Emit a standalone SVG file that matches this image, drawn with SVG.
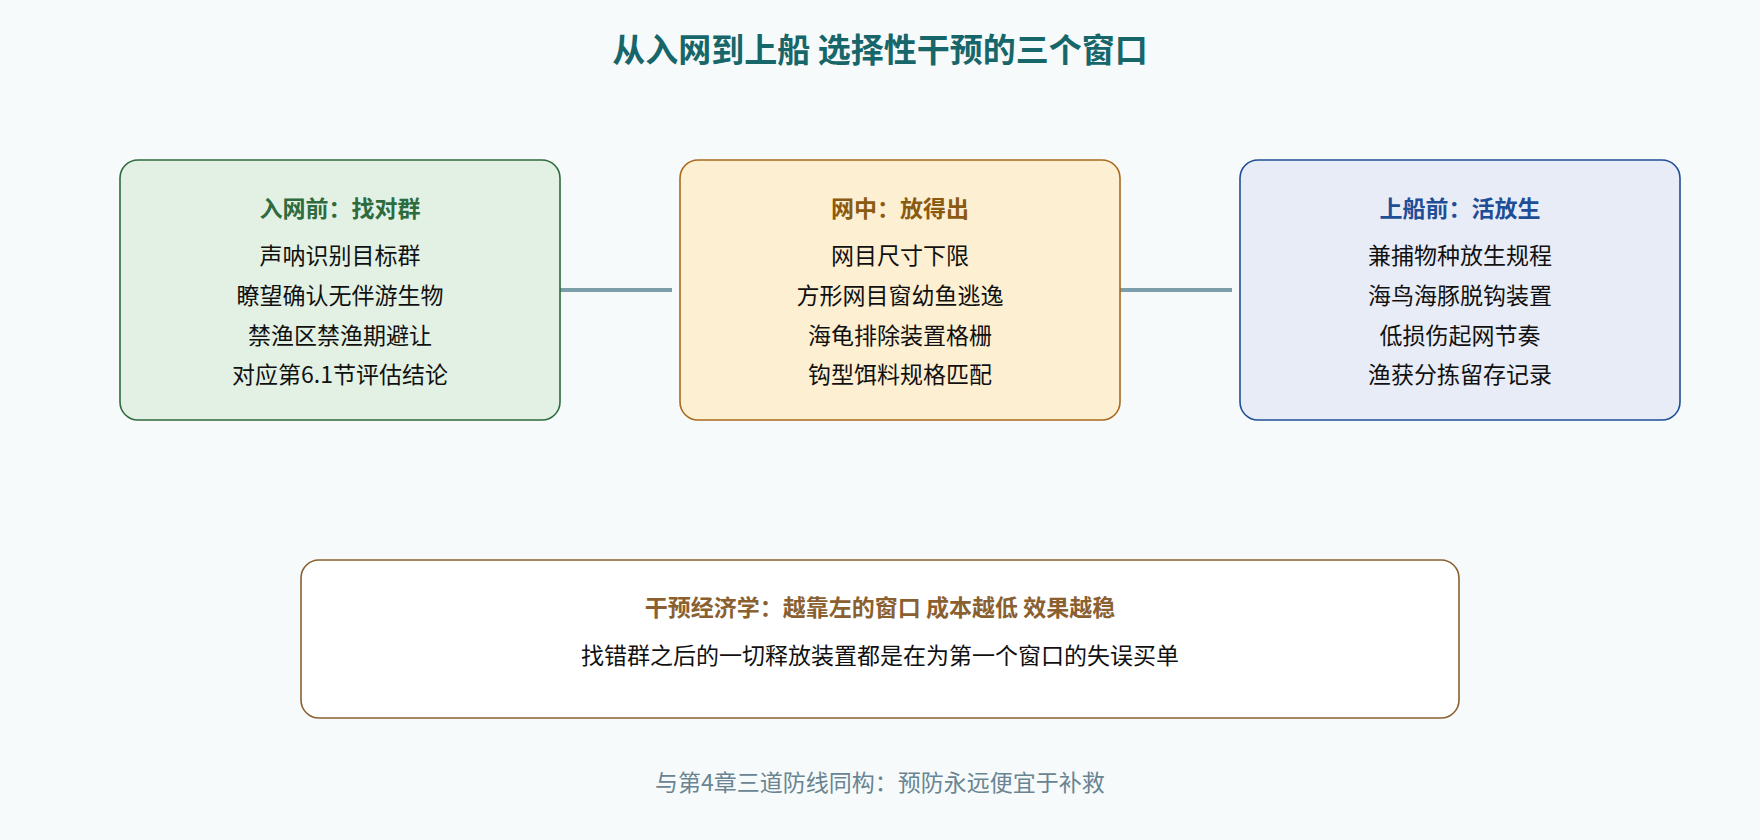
<svg xmlns="http://www.w3.org/2000/svg" width="1760" height="840" viewBox="0 0 1760 840">
<style>
text{font-family:"Noto Sans CJK SC","Noto Sans",sans-serif;text-anchor:middle}
.h{font-size:23px;font-weight:bold}
.t{font-size:23px;fill:#111}
.c{stroke:#7b9ea8;stroke-width:4;fill:none}
</style>
<rect width="1760" height="840" fill="#f6fafb"/>
<text x="880" y="62" font-size="33" font-weight="bold" fill="#17666a">从入网到上船 选择性干预的三个窗口</text>
<g id="connectors">
<line class="c" x1="560" y1="290" x2="672" y2="290"/>
<line class="c" x1="1120" y1="290" x2="1232" y2="290"/>
</g>
<g id="before">
<rect x="120" y="160" width="440" height="260" rx="18" fill="#e3f1e5" stroke="#2e6b3e" stroke-width="1.6"/>
<text class="h" x="340" y="217" fill="#2e6b3e">入网前：找对群</text>
<text class="t" x="340" y="264">声呐识别目标群</text>
<text class="t" x="340" y="304">瞭望确认无伴游生物</text>
<text class="t" x="340" y="344">禁渔区禁渔期避让</text>
<text class="t" x="340" y="383">对应第6.1节评估结论</text>
</g>
<g id="during">
<rect x="680" y="160" width="440" height="260" rx="18" fill="#fdefd1" stroke="#a86a1e" stroke-width="1.6"/>
<text class="h" x="900" y="217" fill="#8a5a12">网中：放得出</text>
<text class="t" x="900" y="264">网目尺寸下限</text>
<text class="t" x="900" y="304">方形网目窗幼鱼逃逸</text>
<text class="t" x="900" y="344">海龟排除装置格栅</text>
<text class="t" x="900" y="383">钩型饵料规格匹配</text>
</g>
<g id="after">
<rect x="1240" y="160" width="440" height="260" rx="18" fill="#e8ecf7" stroke="#1f4e96" stroke-width="1.6"/>
<text class="h" x="1460" y="217" fill="#1f4e96">上船前：活放生</text>
<text class="t" x="1460" y="264">兼捕物种放生规程</text>
<text class="t" x="1460" y="304">海鸟海豚脱钩装置</text>
<text class="t" x="1460" y="344">低损伤起网节奏</text>
<text class="t" x="1460" y="383">渔获分拣留存记录</text>
</g>
<g id="economics">
<rect x="301" y="560" width="1158" height="158" rx="18" fill="#ffffff" stroke="#8a6030" stroke-width="1.6"/>
<text class="h" x="880" y="616" fill="#8a6030">干预经济学：越靠左的窗口 成本越低 效果越稳</text>
<text class="t" x="880" y="664">找错群之后的一切释放装置都是在为第一个窗口的失误买单</text>
</g>
<text x="880" y="791" font-size="23" fill="#6a8492">与第4章三道防线同构：预防永远便宜于补救</text>
</svg>
